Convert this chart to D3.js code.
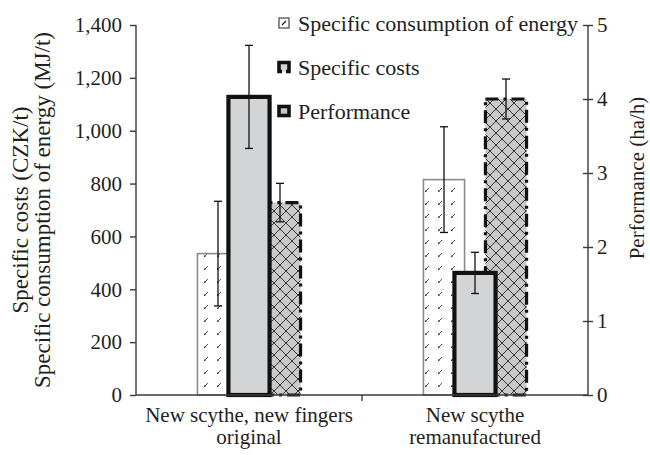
<!DOCTYPE html>
<html>
<head>
<meta charset="utf-8">
<script src="https://cdn.jsdelivr.net/npm/d3@7/dist/d3.min.js"></script>
<style>
	body { margin: 0; background: #fff; }
	text { font-family: "Liberation Serif", "Times New Roman", serif; fill: #231f20; }
</style>
</head>
<body>
<div class="chart"></div>
<script>
const width = 650;
const height = 455;

// data
const categories = ["New scythe, new fingers|original", "New scythe|remanufactured"];
const seriesNames = ["Specific consumption of energy", "Specific costs", "Performance"];
const energy = [535, 815];
const energyErr = [198, 200];
const costs = [1128, 462];
const costsErr = [195, 78];
const performance = [2.6, 4.0];
const performanceErr = [0.26, 0.27];
const leftTicks = [0, 200, 400, 600, 800, 1000, 1200, 1400];
const rightTicks = [0, 1, 2, 3, 4, 5];

const render = () => {
	const margin = { top: 25, right: 62, bottom: 60, left: 136 };
	const innerWidth = width - margin.left - margin.right;
	const innerHeight = height - margin.top - margin.bottom;

	const svg = d3.select(".chart")
		.append("svg")
		.attr("width", width)
		.attr("height", height);

	const defs = svg.append("defs");

	// light dashes for energy
	const pEnergy = defs.append("pattern")
		.attr("id", "pat-energy")
		.attr("patternUnits", "userSpaceOnUse")
		.attr("width", 13).attr("height", 13);
	pEnergy.append("rect").attr("width", 13).attr("height", 13).attr("fill", "#fff");
	pEnergy.append("path").attr("d", "M4,10 L7,7").attr("stroke", "#555").attr("stroke-width", 1);
	pEnergy.append("rect").attr("x", 3).attr("y", 9.5).attr("width", 1.5).attr("height", 1.5).attr("fill", "#333");

	// brick hatch for performance
	const pPerf = defs.append("pattern")
		.attr("id", "pat-perf")
		.attr("patternUnits", "userSpaceOnUse")
		.attr("width", 12).attr("height", 12);
	pPerf.append("rect").attr("width", 12).attr("height", 12).attr("fill", "#c9c9ca");
	pPerf.append("path")
		.attr("d", "M0,0 L12,12 M-6,6 L0,12 M12,0 L18,6 M0,12 L6,6 M6,6 L12,0")
		.attr("stroke", "#222").attr("stroke-width", 0.9).attr("fill", "none");

	const g = svg.append("g")
		.attr("transform", `translate(${margin.left},${margin.top})`);

	const x = d3.scaleBand()
		.domain(categories)
		.range([0, innerWidth])
		.padding(0);
	const offset = d3.scalePoint()
		.domain(seriesNames)
		.range([-31, 31]);
	const barWidth = x.bandwidth() * 0.182;

	const yLeft = d3.scaleLinear().domain([0, 1400]).range([innerHeight, 0]);
	const yRight = d3.scaleLinear().domain([0, 5]).range([innerHeight, 0]);

	const series = [
		{ name: seriesNames[0], values: energy, errs: energyErr, y: yLeft },
		{ name: seriesNames[2], values: performance, errs: performanceErr, y: yRight },
		{ name: seriesNames[1], values: costs, errs: costsErr, y: yLeft }
	];

	const style = {
		[seriesNames[0]]: { fill: "url(#pat-energy)", stroke: "#8a8a8a", sw: 1.6, dash: null },
		[seriesNames[1]]: { fill: "#d3d4d5", stroke: "#111", sw: 4.2, dash: null },
		[seriesNames[2]]: { fill: "url(#pat-perf)", stroke: "#111", sw: 3.2, dash: "13,5,3,5" }
	};

	// bars
	series.forEach(s => {
		const st = style[s.name];
		g.selectAll(null)
			.data(s.values)
			.enter()
			.append("rect")
			.attr("x", (d, i) => x(categories[i]) + x.bandwidth() / 2 + offset(s.name) - barWidth / 2)
			.attr("y", d => s.y(d))
			.attr("width", barWidth)
			.attr("height", d => innerHeight - s.y(d))
			.attr("fill", st.fill)
			.attr("stroke", st.stroke)
			.attr("stroke-width", st.sw)
			.attr("stroke-dasharray", st.dash);
	});

	// error bars
	series.forEach(s => {
		const cx = i => x(categories[i]) + x.bandwidth() / 2 + offset(s.name);
		const eb = g.selectAll(null)
			.data(s.values)
			.enter()
			.append("g")
			.attr("stroke", "#111")
			.attr("stroke-width", 1.3);
		eb.append("line")
			.attr("x1", (d, i) => cx(i)).attr("x2", (d, i) => cx(i))
			.attr("y1", (d, i) => s.y(d + s.errs[i]))
			.attr("y2", (d, i) => s.y(d - s.errs[i]));
		eb.append("line")
			.attr("x1", (d, i) => cx(i) - 4).attr("x2", (d, i) => cx(i) + 4)
			.attr("y1", (d, i) => s.y(d + s.errs[i]))
			.attr("y2", (d, i) => s.y(d + s.errs[i]));
		eb.append("line")
			.attr("x1", (d, i) => cx(i) - 4).attr("x2", (d, i) => cx(i) + 4)
			.attr("y1", (d, i) => s.y(d - s.errs[i]))
			.attr("y2", (d, i) => s.y(d - s.errs[i]));
	});

	// axes
	const axisColor = "#3a3a3a";
	const leftAxis = g.append("g")
		.call(d3.axisLeft(yLeft).tickValues(leftTicks).tickFormat(d3.format(",")).tickSize(6).tickPadding(8));
	const rightAxis = g.append("g")
		.attr("transform", `translate(${innerWidth},0)`)
		.call(d3.axisRight(yRight).tickValues(rightTicks).tickFormat(d3.format("d")).tickSize(5).tickPadding(4));
	rightAxis.selectAll(".tick line").attr("x1", -5);

	const xAxis = g.append("g")
		.attr("transform", `translate(0,${innerHeight})`)
		.call(d3.axisBottom(x).tickSize(0).tickPadding(12));
	xAxis.select(".domain").attr("d", `M0,0H${innerWidth}`);
	xAxis.append("line")
		.attr("x1", innerWidth / 2).attr("x2", innerWidth / 2)
		.attr("y1", 0).attr("y2", 6);

	[leftAxis, rightAxis, xAxis].forEach(a => {
		a.selectAll(".domain").attr("stroke", axisColor).attr("stroke-width", 1.4);
		a.selectAll("line").attr("stroke", axisColor).attr("stroke-width", 1.4);
		a.selectAll("text")
			.attr("font-family", "Liberation Serif, serif")
			.attr("font-size", 21)
			.attr("fill", "#231f20");
	});
	leftAxis.selectAll(".domain").attr("d", `M0,${innerHeight}V0`);
	rightAxis.selectAll(".domain").attr("d", `M0,${innerHeight}V0`);

	// two-line category labels
	xAxis.selectAll(".tick text")
		.text(null)
		.each(function (d) {
			const lines = d.split("|");
			d3.select(this).selectAll("tspan")
				.data(lines)
				.enter()
				.append("tspan")
				.attr("x", 0)
				.attr("dy", (l, i) => i === 0 ? "0.71em" : "1.05em")
				.text(l => l);
		});

	// axis titles
	const yTitle = svg.append("text")
		.attr("transform", "translate(28,210) rotate(-90)")
		.attr("text-anchor", "middle")
		.attr("font-size", 23);
	yTitle.append("tspan").attr("x", 0).attr("y", 0).text("Specific costs (CZK/t)");
	yTitle.append("tspan").attr("x", 0).attr("y", 22).text("Specific consumption of energy (MJ/t)");

	svg.append("text")
		.attr("transform", "translate(644,178) rotate(-90)")
		.attr("text-anchor", "middle")
		.attr("font-size", 21)
		.text("Performance (ha/h)");

	// legend
	const legend = svg.selectAll(".legend")
		.data(seriesNames)
		.enter()
		.append("g")
		.attr("class", "legend")
		.attr("transform", (d, i) => `translate(278, ${23 + i * 44})`);

	legend.append("text")
		.attr("x", 20)
		.attr("y", 0)
		.attr("dy", "0.35em")
		.attr("font-size", 22)
		.text(d => d);

	legend.each(function (d) {
		const lg = d3.select(this);
		if (d === seriesNames[0]) {
			lg.append("rect").attr("x", 1).attr("y", -5).attr("width", 10).attr("height", 10)
				.attr("fill", "#fff").attr("stroke", "#444").attr("stroke-width", 1.2);
			lg.append("path").attr("d", "M4,2 L8,-2").attr("stroke", "#222").attr("stroke-width", 1.3);
		} else if (d === seriesNames[1]) {
			lg.append("rect").attr("x", 1).attr("y", -4.5).attr("width", 10).attr("height", 9)
				.attr("fill", "#d3d4d5").attr("stroke", "#111").attr("stroke-width", 3.6)
				.attr("stroke-dasharray", "22,4,14");
		} else {
			lg.append("rect").attr("x", 1).attr("y", -4.5).attr("width", 10).attr("height", 9)
				.attr("fill", "#c9c9ca").attr("stroke", "#111").attr("stroke-width", 3.6);
		}
	});
};

document.addEventListener("DOMContentLoaded", function () {
	render();
});
</script>
</body>
</html>
